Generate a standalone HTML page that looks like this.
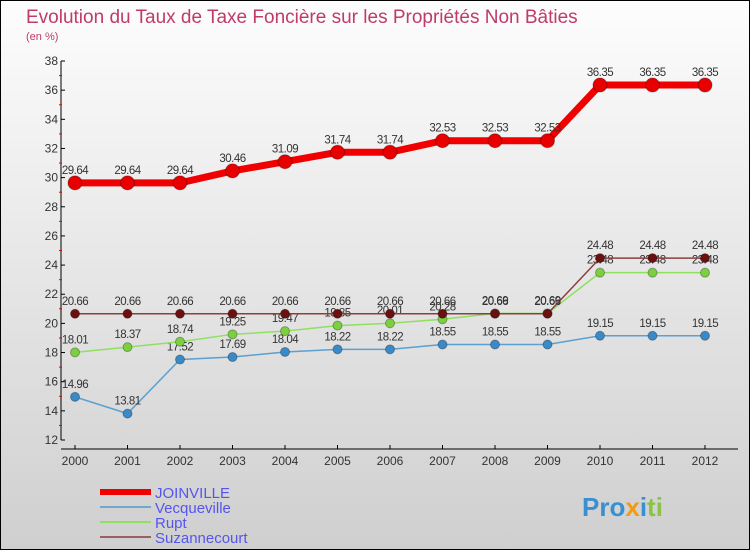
<!DOCTYPE html>
<html><head><meta charset="utf-8"><style>
body{margin:0}
#c{width:750px;height:550px;position:relative;font-family:"Liberation Sans",sans-serif}
</style></head><body>
<div id="c">
<svg id="s" width="750" height="550" xmlns="http://www.w3.org/2000/svg">
<defs><linearGradient id="bg" x1="0" y1="0" x2="0" y2="1"><stop offset="0" stop-color="#fdfdfd"/><stop offset="1" stop-color="#cfcfcf"/></linearGradient></defs>
<rect x="0.5" y="0.5" width="749" height="549" fill="url(#bg)" stroke="#000"/>
<text x="26" y="23" font-size="19" fill="#c03a6c">Evolution du Taux de Taxe Foncière sur les Propriétés Non Bâties</text>
<text x="26" y="40" font-size="11" fill="#c03a6c">(en %)</text>
<g id="axes"></g><g id="series"></g><g id="legend"></g>
<text x="582" y="516" font-size="26" font-weight="bold" fill="#3a8fd0">Pro<tspan fill="#f39c12">x</tspan><tspan fill="#3a8fd0">i</tspan><tspan fill="#8bc34a">ti</tspan></text>
</svg></div>
<script>
const years=[2000,2001,2002,2003,2004,2005,2006,2007,2008,2009,2010,2011,2012];
const yTicks=[12,14,16,18,20,22,24,26,28,30,32,34,36,38];
const joinville=[29.64,29.64,29.64,30.46,31.09,31.74,31.74,32.53,32.53,32.53,36.35,36.35,36.35];
const vecqueville=[14.96,13.81,17.52,17.69,18.04,18.22,18.22,18.55,18.55,18.55,19.15,19.15,19.15];
const rupt=[18.01,18.37,18.74,19.25,19.47,19.85,20.01,20.28,20.69,20.69,23.48,23.48,23.48];
const suzannecourt=[20.66,20.66,20.66,20.66,20.66,20.66,20.66,20.66,20.66,20.66,24.48,24.48,24.48];
const NS="http://www.w3.org/2000/svg";
const X=i=>75+i*52.5, Y=v=>440-(v-12)*(379/26);
function mk(p,t,a){const e=document.createElementNS(NS,t);for(const k in a)e.setAttribute(k,a[k]);p.appendChild(e);return e;}
const ax=document.getElementById('axes');
let l=mk(ax,'line',{x1:61,y1:Y(38),x2:61,y2:440,stroke:'#000'});


l=mk(ax,'line',{x1:61,y1:449,x2:738,y2:449,stroke:'#000'});


yTicks.forEach((v,i)=>{
 mk(ax,'line',{x1:61,y1:Y(v),x2:65,y2:Y(v),stroke:'#000'});
 if(i<yTicks.length-1) mk(ax,'line',{x1:59,y1:Y(v+1),x2:62,y2:Y(v+1),stroke:'#e00'});
 const t=mk(ax,'text',{x:58,y:Y(v)+4,'font-size':12,fill:'#333','text-anchor':'end'});t.textContent=v;
 
 
});
years.forEach((y,i)=>{
 mk(ax,'line',{x1:X(i),y1:445,x2:X(i),y2:449,stroke:'#000'});
 const t=mk(ax,'text',{x:X(i),y:465,'font-size':12,fill:'#333','text-anchor':'middle'});t.textContent=y;
 
 
});
const sg=document.getElementById('series');
function series(d,name,col,w,r,fill){
 const g=mk(sg,'g',{});
 
 
 mk(g,'polyline',{points:d.map((v,i)=>X(i)+','+Y(v)).join(' '),fill:'none',stroke:col,'stroke-width':w});
 d.forEach((v,i)=>{
  const c=mk(g,'circle',{cx:X(i),cy:Y(v),r:r,fill:fill,stroke:'rgba(0,0,0,0.3)'});
  
  
  const t=mk(g,'text',{x:X(i),y:Y(v)-9,'font-size':11.5,fill:'#333','text-anchor':'middle','letter-spacing':'-0.5'});t.textContent=v.toFixed(2);
  
  
 });
}
series(vecqueville,'vecqueville','#5aa0d0',1.5,4.5,'#3a8ac8');
series(rupt,'rupt','#90e060',1.5,4.5,'#7cd040');
series(suzannecourt,'suzannecourt','#8a4040',1.5,4.5,'#6a1010');
series(joinville,'joinville','#f00000',7,7,'#e80000');
const lg=document.getElementById('legend');
[['JOINVILLE','#f00000',6],['Vecqueville','#70a8d0',2],['Rupt','#90e060',2],['Suzannecourt','#9a6060',2]].forEach((e,i)=>{
 const y=492+i*15;
 const g=mk(lg,'g',{});
 
 
 mk(g,'line',{x1:100,y1:y,x2:151,y2:y,stroke:e[1],'stroke-width':e[2]});
 const t=mk(g,'text',{x:155,y:y+6,'font-size':15,fill:'#5555ee'});t.textContent=e[0];
});
</script>
</body></html>
